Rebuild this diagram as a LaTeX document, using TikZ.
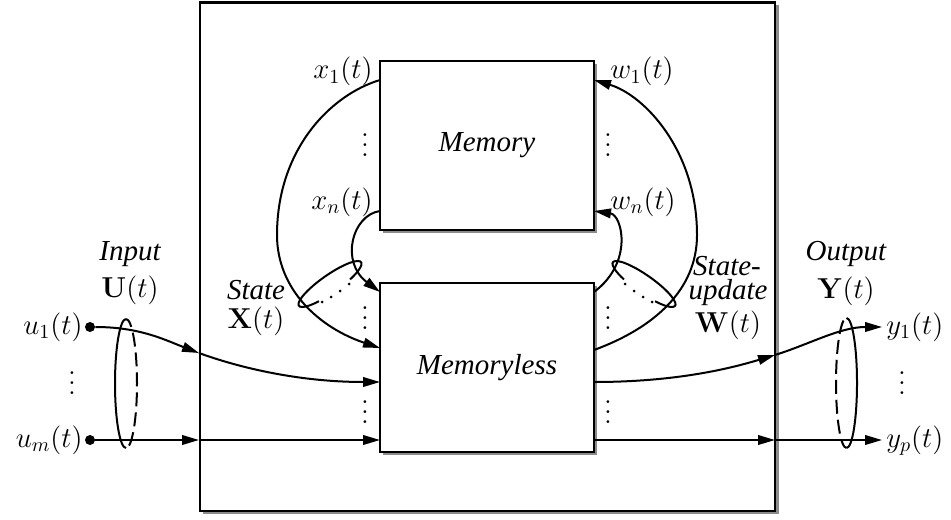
\documentclass[tikz,border=0pt]{standalone}
\usepackage[no-math]{fontspec}
\setmainfont{Liberation Serif}
\usetikzlibrary{arrows.meta}
\newcommand\myvdots{\vbox{\baselineskip=5pt\lineskiplimit=0pt\hbox{$.$}\hbox{$.$}\hbox{$.$}}}
\begin{document}
\begin{tikzpicture}[x=0.5pt,y=-0.5pt,
  every node/.style={font=\fontsize{14.5}{17}\selectfont},
  box/.style={draw,line width=1.15pt,fill=white,inner sep=0pt},
  shade/.style={fill=black!45},
  wire/.style={line width=1pt},
  arr/.style={wire,-{Triangle[length=8.5pt,width=4.8pt]}},
  lbl/.style={inner sep=0pt},
  txt/.style={inner sep=0pt,font=\fontsize{14.5}{17}\selectfont\itshape},
  dotnode/.style={circle,fill,inner sep=0pt,minimum size=5pt},
  vd/.style={inner sep=0pt}]
\useasboundingbox (0,0) rectangle (951,519);
% outer system box
\fill[shade] (203,5.5) rectangle (779,514);
\node[box,anchor=north west,minimum width=287.5pt,minimum height=254.25pt] (sys) at (199,1.5) {};
% inner boxes
\fill[shade] (383,64) rectangle (597,233);
\node[box,minimum width=107pt,minimum height=84.5pt,font=\fontsize{14.5}{17}\selectfont\itshape] (mem) at (487,145.5) {Memory};
\fill[shade] (383,286) rectangle (597,455);
\node[box,minimum width=107pt,minimum height=84.5pt,font=\fontsize{14.5}{17}\selectfont\itshape] (ml) at (487,367.5) {Memoryless};

% connection points
\coordinate (x1s) at (380,80);
\coordinate (x1m) at (277,235);
\coordinate (x1e) at (380,348);
\coordinate (xns) at (380,211);
\coordinate (xne) at (380,292);
\coordinate (w1s) at (594,350);
\coordinate (w1m) at (697,235);
\coordinate (w1e) at (594,80);
\coordinate (wns) at (594,292);
\coordinate (wne) at (594,211);

% state loops
\draw[wire] (x1s) .. controls (330,95) and (277,150) .. (x1m);
\draw[arr] (x1m) .. controls (277,290) and (320,328) .. (x1e);
\draw[arr] (xns) .. controls (352,215) and (340,262) .. (xne);
\draw[wire] (w1s) .. controls (654,328) and (697,290) .. (w1m);
\draw[arr] (w1m) .. controls (697,150) and (644,95) .. (w1e);
\draw[arr] (wns) .. controls (634,262) and (622,215) .. (wne);

% bundle ellipses for state
\begin{scope}[shift={(330,284)},rotate=35]
  \draw[wire] (-60:19pt and 4.5pt) arc[start angle=-60,end angle=240,x radius=19pt,y radius=4.5pt];
\end{scope}
\begin{scope}[shift={(644,284)},rotate=-35]
  \draw[wire] (-60:19pt and 4.5pt) arc[start angle=-60,end angle=240,x radius=19pt,y radius=4.5pt];
\end{scope}
\foreach \p in {(322,302),(331,297),(340,291),(349,284),(625,284),(634,291),(643,297),(652,302)}
  \fill \p circle[radius=0.75pt];

% inputs
\node[dotnode] (u1) at (90,327) {};
\node[dotnode] (um) at (90,440) {};
\coordinate (ub1) at (199,353);
\coordinate (ubm) at (199,440);
\coordinate (ui1) at (380,382);
\coordinate (uim) at (380,440);
\draw[arr] (u1) .. controls (140,327) and (165,340) .. (ub1);
\draw[arr] (ub1) .. controls (240,368) and (300,382) .. (ui1);
\draw[arr] (um) -- (ubm);
\draw[arr] (ubm) -- (uim);

% outputs
\coordinate (yo1) at (594,382);
\coordinate (yom) at (594,440);
\coordinate (yb1) at (775,355);
\coordinate (ybm) at (775,440);
\coordinate (ye1) at (882,327);
\coordinate (yem) at (882,440);
\draw[arr] (yo1) .. controls (680,382) and (735,367) .. (yb1);
\draw[arr] (yb1) .. controls (810,344) and (840,327) .. (ye1);
\draw[arr] (yom) -- (ybm);
\draw[arr] (ybm) -- (yem);

% input / output bundle ellipses
\draw[wire] ([shift={(126,383.5)}]90:5.5pt and 32.25pt) arc[start angle=90,end angle=270,x radius=5.5pt,y radius=32.25pt];
\draw[wire,dash pattern=on 7pt off 3pt,dash phase=-2pt] ([shift={(126,383.5)}]-90:5.5pt and 32.25pt) arc[start angle=-90,end angle=90,x radius=5.5pt,y radius=32.25pt];
\draw[wire] ([shift={(846.5,383)}]-90:5.25pt and 32.5pt) arc[start angle=-90,end angle=90,x radius=5.25pt,y radius=32.5pt];
\draw[wire,dash pattern=on 7pt off 3pt,dash phase=-2pt] ([shift={(846.5,383)}]90:5.25pt and 32.5pt) arc[start angle=90,end angle=270,x radius=5.25pt,y radius=32.5pt];

% labels
\node[lbl,anchor=base east] (lx1) at (373,79) {$x_1(t)$};
\node[lbl,anchor=base east] (lxn) at (373,209) {$x_n(t)$};
\node[lbl,anchor=base west] (lw1) at (610,79) {$w_1(t)$};
\node[lbl,anchor=base west] (lwn) at (610,209) {$w_n(t)$};
\node[lbl,anchor=base east] (lu1) at (83,334) {$u_1(t)$};
\node[lbl,anchor=base east] (lum) at (83,447) {$u_m(t)$};
\node[lbl,anchor=base west] (ly1) at (886,334) {$y_1(t)$};
\node[lbl,anchor=base west] (lyp) at (886,447) {$y_p(t)$};

\node[txt,anchor=base] (tin) at (130,260) {Input};
\node[lbl,anchor=base] (tU) at (130,297) {$\mathbf{U}(t)$};
\node[txt,anchor=base] (tst) at (256,299) {State};
\node[lbl,anchor=base] (tX) at (256,328) {$\mathbf{X}(t)$};
\node[txt,anchor=base] (tsu) at (727,275) {State-};
\node[txt,anchor=base] (tup) at (728,299) {update};
\node[lbl,anchor=base] (tW) at (728,332) {$\mathbf{W}(t)$};
\node[txt,anchor=base] (tout) at (846,260) {Output};
\node[lbl,anchor=base] (tY) at (846,298) {$\mathbf{Y}(t)$};

% vertical dots
\node[vd] (d1) at (365,145) {\myvdots};
\node[vd] (d2) at (608,145) {\myvdots};
\node[vd] (d3) at (365,318) {\myvdots};
\node[vd] (d4) at (365,412) {\myvdots};
\node[vd] (d5) at (608,318) {\myvdots};
\node[vd] (d6) at (608,412) {\myvdots};
\node[vd] (d7) at (72,383) {\myvdots};
\node[vd] (d8) at (902,383) {\myvdots};
\end{tikzpicture}
\end{document}
